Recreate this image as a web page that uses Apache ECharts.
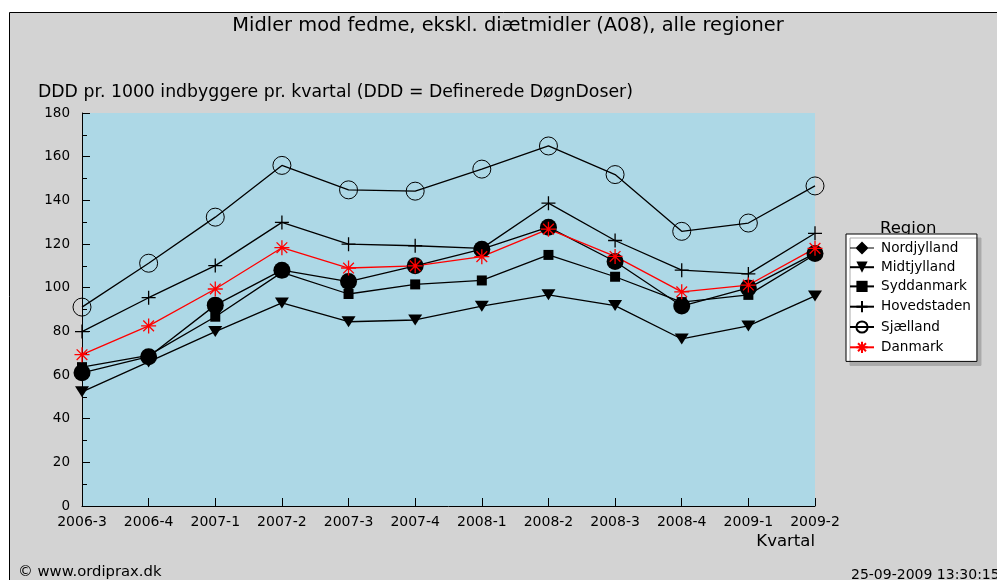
<!DOCTYPE html>
<html>
<head>
    <meta charset="utf-8">
    <title>Midler mod fedme</title>
    <script src="https://cdn.jsdelivr.net/npm/echarts@6/dist/echarts.min.js"></script>
    <style>
        html, body { margin: 0; padding: 0; background: #fff; }
    </style>
</head>
<body>
<div id="main" style="width:997px;height:580px;"></div>
<script type="text/javascript">
    // kvartaler
    var kvartaler = ['2006-3', '2006-4', '2007-1', '2007-2', '2007-3', '2007-4',
        '2008-1', '2008-2', '2008-3', '2008-4', '2009-1', '2009-2'];

    // DDD pr. 1000 indbyggere pr. kvartal
    var nordjylland = [61, 68.4, 92, 108, 102.8, 110, 117.6, 127.7, 112, 91.6, 99.9, 115.7];
    var midtjylland = [52.3, 66, 79.9, 93, 84.4, 85.2, 91.5, 96.7, 91.8, 76.5, 82.5, 96.2];
    var syddanmark = [63.6, 69, 86.7, 107, 97.1, 101.5, 103.3, 115, 105, 93.4, 96.7, 115.2];
    var hovedstaden = [79.9, 95.4, 110.1, 129.9, 119.9, 119.2, 118, 138.7, 121.6, 108, 106.3, 124.9];
    var sjaelland = [91.1, 111.2, 132.3, 156, 144.8, 144.2, 154.3, 164.9, 151.8, 125.8, 129.6, 146.6];
    var danmark = [69.3, 82.5, 99.4, 118.3, 109, 110, 114.2, 126.8, 114.3, 98.1, 101.2, 118];

    var font = 'DejaVu Sans';

    var plusPath = 'path://M0,7L14,7M7,0L7,14';
    var starPath = 'path://M0,8L16,8M8,0L8,16M2.3,2.3L13.7,13.7M2.3,13.7L13.7,2.3';
    var trianglePath = 'path://M0,0L14,0L7,11Z';
    var diamondIcon = 'path://M0,6.5L6,6.5L12,0.5L18,6.5L24,6.5L24,7.5L18,7.5L12,13.5L6,7.5L0,7.5Z';

    function line(name, data, symbol, size, color, extra) {
        var s = {
            name: name,
            type: 'line',
            data: data,
            symbol: symbol,
            symbolSize: size,
            showAllSymbol: true,
            lineStyle: {color: color, width: 1.3},
            itemStyle: {color: color},
            emphasis: {disabled: true}
        };
        if (extra) {
            s.itemStyle = extra;
        }
        return s;
    }

    var myChart = echarts.init(document.getElementById('main'));

    var option = {
        animation: false,
        textStyle: {fontFamily: font},
        title: [
            {
                text: 'Midler mod fedme, ekskl. diætmidler (A08), alle regioner',
                left: 508, top: 16, textAlign: 'center', padding: 0,
                textStyle: {fontSize: 19.4, fontWeight: 'normal', color: '#000', fontFamily: font}
            },
            {
                text: 'DDD pr. 1000 indbyggere pr. kvartal (DDD = Definerede DøgnDoser)',
                left: 38, top: 84, padding: 0,
                textStyle: {fontSize: 17.3, fontWeight: 'normal', color: '#000', fontFamily: font}
            }
        ],
        graphic: [
            {
                type: 'rect', z: -10, silent: true,
                shape: {x: 9.5, y: 12.5, width: 1000, height: 600},
                style: {fill: '#d3d3d3', stroke: '#000', lineWidth: 1}
            },
            {
                type: 'text', left: 880, top: 220,
                style: {text: 'Region', fontSize: 16.5, fontFamily: font, fill: '#000'}
            },
            {
                type: 'text', right: 182, top: 533,
                style: {text: 'Kvartal', fontSize: 16.5, fontFamily: font, fill: '#000'}
            },
            {
                type: 'text', left: 18, top: 565,
                style: {text: '© www.ordiprax.dk', fontSize: 14.8, fontFamily: font, fill: '#000'}
            },
            {
                type: 'text', left: 851, top: 568,
                style: {text: '25-09-2009 13:30:15', fontSize: 14, fontFamily: font, fill: '#000'}
            }
        ],
        legend: {
            orient: 'vertical',
            left: 846, top: 234,
            padding: [7, 6, 6, 3],
            itemWidth: 24, itemHeight: 14, itemGap: 5.2,
            backgroundColor: '#fff',
            borderColor: '#000', borderWidth: 1, borderRadius: 0,
            shadowColor: '#a9a9a9', shadowBlur: 0, shadowOffsetX: 4, shadowOffsetY: 4,
            textStyle: {fontSize: 13.6, color: '#000', fontFamily: font, padding: [0, 0, 0, 2]},
            selectedMode: false,
            data: [
                {name: 'Nordjylland', icon: diamondIcon},
                'Midtjylland', 'Syddanmark', 'Hovedstaden', 'Sjælland', 'Danmark'
            ]
        },
        grid: {
            left: 82, top: 113, right: 182, bottom: 74,
            show: true, backgroundColor: '#add8e6', borderWidth: 0
        },
        xAxis: {
            type: 'category',
            boundaryGap: false,
            data: kvartaler,
            axisLine: {lineStyle: {color: '#000', width: 1}},
            axisTick: {inside: true, length: 8, lineStyle: {color: '#000'}},
            axisLabel: {interval: 0, fontSize: 14, color: '#000', margin: 9, fontFamily: font},
            splitLine: {show: false}
        },
        yAxis: {
            type: 'value',
            min: 0, max: 180, interval: 20,
            axisLine: {show: true, lineStyle: {color: '#000', width: 1}},
            axisTick: {show: true, inside: true, length: 8, lineStyle: {color: '#000'}},
            minorTick: {show: true, splitNumber: 2, length: 5, lineStyle: {color: '#000'}},
            axisLabel: {fontSize: 13.5, color: '#000', margin: 12, fontFamily: font},
            splitLine: {show: false}
        },
        series: [
            line('Nordjylland', nordjylland, 'circle', 17, '#000'),
            line('Midtjylland', midtjylland, trianglePath, [14, 11], '#000'),
            line('Syddanmark', syddanmark, 'rect', 10, '#000'),
            line('Hovedstaden', hovedstaden, plusPath, 14, '#000',
                {color: 'none', borderColor: '#000', borderWidth: 1.3}),
            line('Sjælland', sjaelland, 'circle', 18, '#000',
                {color: 'rgba(0,0,0,0)', borderColor: '#000', borderWidth: 1}),
            line('Danmark', danmark, starPath, 15, '#f00',
                {color: 'none', borderColor: '#f00', borderWidth: 1.3})
        ]
    };

    myChart.setOption(option);
</script>
</body>
</html>
